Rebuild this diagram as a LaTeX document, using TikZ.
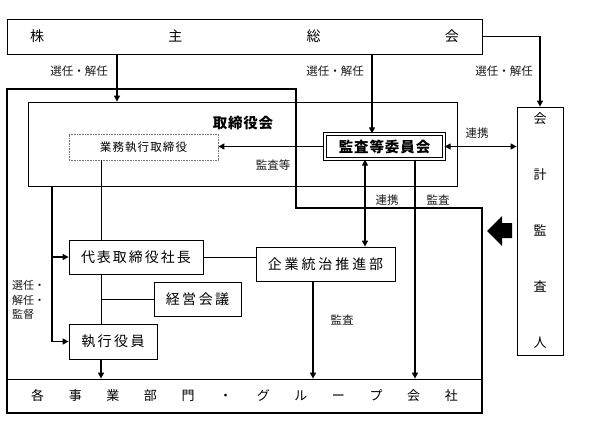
\documentclass[tikz,border=0pt]{standalone}
\usepackage{fontspec}
\setmainfont{Noto Sans CJK JP}
\usetikzlibrary{arrows.meta}
\newcommand\sptxt[2]{\def\spgap{#1}\sploop#2\relax}
\def\sploop#1#2{#1\ifx#2\relax\else\hspace{\spgap}\expandafter\sploop\expandafter#2\fi}
\begin{document}
\begin{tikzpicture}[x=1pt,y=-1pt,
  box/.style={draw, line width=0.8pt, inner sep=0pt, anchor=center, font=\fontsize{14}{16}\selectfont},
  arr/.style={line width=1.2pt, -{Triangle[length=6pt,width=6pt]}},
  darr/.style={line width=1.2pt, {Triangle[length=6pt,width=6pt]}-{Triangle[length=6pt,width=6pt]}},
  ln/.style={line width=0.8pt},
  lbl/.style={font=\fontsize{11.5}{13}\selectfont, inner sep=0pt, text=black!90},
]
\useasboundingbox (0,0) rectangle (594,422);
% column coordinates
\coordinate (c1) at (117,0);
\coordinate (c2) at (372,0);
\coordinate (c3) at (365,0);
\coordinate (c4) at (415,0);
\coordinate (c5) at (52,0);
\coordinate (c6) at (101,0);
\coordinate (c7) at (313,0);

\node[box, minimum width=475pt, minimum height=35pt] (gm) at (244.5,36.5) {\sptxt{124.3pt}{株主総会}};
\node[box, minimum width=429pt, minimum height=84pt] (board) at (242.5,144) {};
\node[font=\bfseries\fontsize{14.5}{16}\selectfont, inner sep=0pt] (boardlbl) at (243,123) {\sptxt{0.75pt}{取締役会}};
\node[box, draw=black!55, dash pattern=on 0.8pt off 0.8pt, minimum width=149pt, minimum height=26pt, font=\fontsize{11.5}{13}\selectfont] (exec) at (143.5,147) {\sptxt{1.1pt}{業務執行取締役}};
\node[box, double, double distance=2pt, minimum width=119.4pt, minimum height=25.4pt, font=\bfseries\fontsize{14.5}{16}\selectfont] (kansa) at (384.5,146.5) {\sptxt{0.9pt}{監査等委員会}};
\node[box, minimum width=46pt, minimum height=248pt] (audit) at (540,231) {};
\node[align=center, inner sep=0pt, font=\fontsize{13}{56}\selectfont] (audittxt) at (540,231) {会\\計\\監\\査\\人};
\node[box, minimum width=134pt, minimum height=34pt] (ceo) at (136,257) {\sptxt{2pt}{代表取締役社長}};
\node[box, minimum width=139pt, minimum height=34pt] (kigyo) at (325.5,264) {\sptxt{2.9pt}{企業統治推進部}};
\node[box, minimum width=87pt, minimum height=34pt] (keiei) at (197.5,299) {\sptxt{2.5pt}{経営会議}};
\node[box, minimum width=88pt, minimum height=35pt] (yakuin) at (113,341.5) {\sptxt{2.5pt}{執行役員}};
\node[box, minimum width=475pt, minimum height=34pt, font=\fontsize{13}{15}\selectfont] (jigyo) at (244.5,396) {\sptxt{24.6pt}{各事業部門・グループ会社}};

% thick frame
\draw[line width=2.4pt, line join=miter] (7,89) -- (296,89) -- (296,208) -- (482,208) -- (482,413) -- (7,413) -- cycle;
% big arrow
\fill (487,231) -- (502,216) -- (502,223) -- (512,223) -- (512,238) -- (502,238) -- (502,246) -- cycle;

% connectors
\draw[arr] (gm.south -| c1) -- (board.north -| c1);
\draw[arr] (gm.south -| c2) -- (kansa.north -| c2);
\draw[arr] (gm.east) -| (audit.north);
\draw[arr] (kansa.west) -- (kansa.west -| exec.east);
\draw[darr] (kansa.east) -- (kansa.east -| audit.west);
\draw[darr] (kansa.south -| c3) -- (kigyo.north -| c3);
\draw[arr] (kansa.south -| c4) -- (jigyo.north -| c4);
\draw[ln] (exec.south -| c6) -- (ceo.north -| c6);
\draw[ln] (ceo.south -| c6) -- (yakuin.north -| c6);
\draw[ln] (keiei.west -| c6) -- (keiei.west);
\draw[arr] (board.south -| c5) |- (yakuin.west);
\draw[arr] (ceo.west -| c5) -- (ceo.west);
\draw[ln] (ceo.east) -- (ceo.east -| kigyo.west);
\draw[arr] (kigyo.south -| c7) -- (jigyo.north -| c7);
\draw[arr] (yakuin.south -| c6) -- (jigyo.north -| c6);

% labels
\node[lbl] (l1) at (79,71) {選任・解任};
\node[lbl] (l2) at (335,71) {選任・解任};
\node[lbl] (l3) at (504,71) {選任・解任};
\node[lbl] (l4) at (477,133) {連携};
\node[lbl] (l5) at (273,165) {監査等};
\node[lbl] (l6) at (387,200) {連携};
\node[lbl] (l7) at (438,200) {監査};
\node[lbl] (l8) at (342,320) {監査};
\node[lbl, align=left, anchor=west, font=\fontsize{11}{14.5}\selectfont] (l9) at (12,300) {選任・\\解任・\\監督};
\end{tikzpicture}
\end{document}
